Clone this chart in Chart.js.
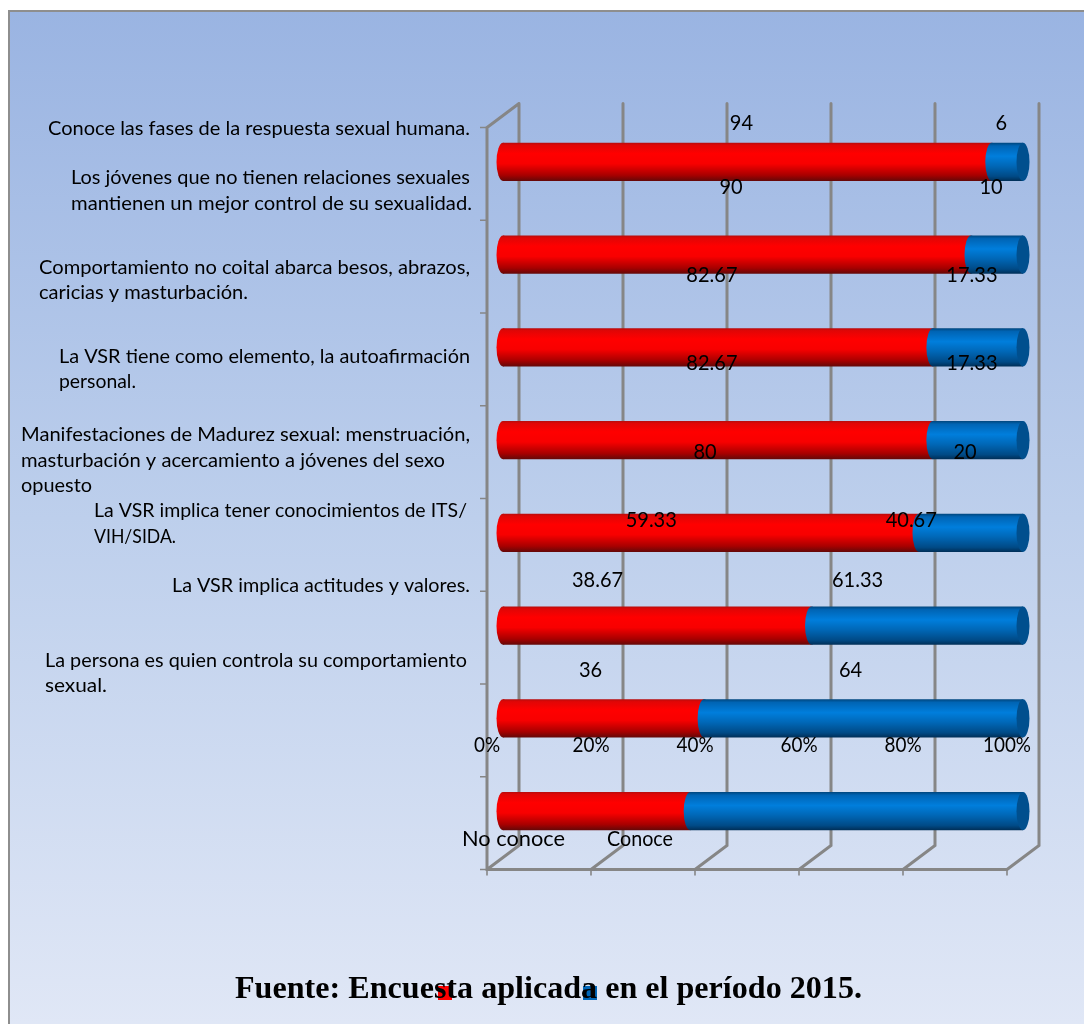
<!DOCTYPE html>
<html lang="es">
<head>
<meta charset="utf-8">
<title>Conocimiento sobre sexualidad</title>
<script src="https://cdn.jsdelivr.net/npm/chart.js@4/dist/chart.umd.min.js"></script>
<style>
  html, body { margin: 0; padding: 0; background: #fff; }
  canvas { display: block; }
</style>
</head>
<body>
<canvas id="chart" width="1084" height="1024"></canvas>
<script>
// Survey results, top bar first
const categories = [
  ["Conoce las fases de la respuesta sexual humana."],
  ["Los jóvenes que no tienen relaciones sexuales", "mantienen un mejor control de su sexualidad."],
  ["Comportamiento no coital abarca besos, abrazos,", "caricias y masturbación."],
  ["La VSR tiene como elemento, la autoafirmación", "personal."],
  ["Manifestaciones de Madurez sexual: menstruación,", "masturbación y acercamiento a jóvenes del sexo", "opuesto"],
  ["La VSR implica tener conocimientos de ITS/", "VIH/SIDA."],
  ["La VSR implica actitudes y valores."],
  ["La persona es quien controla su comportamiento", "sexual."]
];
const noConoce = [94, 90, 82.67, 82.67, 80, 59.33, 38.67, 36];
const conoce = [6, 10, 17.33, 17.33, 20, 40.67, 61.33, 64];
const percentTicks = [0, 20, 40, 60, 80, 100];
const seriesNames = ["No conoce", "Conoce"];
const sourceNote = "Fuente: Encuesta aplicada en el período 2015.";

// Layout of the free-floating text, kept apart from the values
const labelLeft = [48, 71, 39, 59, 21, 94, 172, 45];
const labelRise = [33, 77, 80, 84, 98, 115, 133, 151];
const labelWidths = [[422], [399, 401], [431, 209], [411, 77], [449, 424, 71], [373, 82], [298], [422, 62]];
const valueRise = [40, 69, 73, 78, 82, 107, 139, 142];
const DEPTH_X = 16, DEPTH_Y = 12, CAP_RX = 6.5;
const LINE_GAP = 25.5;
const TEXT_FONT = "Lato, 'Noto Sans', sans-serif";

const RED_STOPS = [[0, "#b80c0c"], [0.06, "#e00606"], [0.28, "#ff0000"], [0.55, "#f80000"], [0.85, "#a80000"], [1, "#640808"]];
const BLUE_STOPS = [[0, "#00477f"], [0.08, "#0064b4"], [0.35, "#007edc"], [0.6, "#0068b8"], [0.88, "#004a86"], [1, "#002f58"]];

function cylinderFill(chart, index, stops) {
  const y = chart.scales.y;
  const fallback = stops[2][1];
  if (!y || index === undefined) return fallback;
  const cy = y.getPixelForValue(index);
  const pitch = y.getPixelForValue(1) - y.getPixelForValue(0);
  if (!Number.isFinite(cy) || !Number.isFinite(pitch)) return fallback;
  const g = chart.ctx.createLinearGradient(0, cy - pitch * 0.205, 0, cy + pitch * 0.205);
  stops.forEach(s => g.addColorStop(s[0], s[1]));
  return g;
}

// Draws text stretched or condensed to an exact width
function fitText(ctx, text, x, y, width, font, align) {
  ctx.save();
  ctx.font = font;
  ctx.fillStyle = "#000";
  ctx.textBaseline = "middle";
  const natural = ctx.measureText(text).width;
  const k = width / natural;
  const left = align === "center" ? x - width / 2 : x;
  ctx.translate(left, y);
  ctx.scale(k, 1);
  ctx.textAlign = "left";
  ctx.fillText(text, 0, 0);
  ctx.restore();
}

const panelBackground = {
  id: "panelBackground",
  beforeDraw(chart) {
    const { ctx, width, height } = chart;
    const g = ctx.createLinearGradient(0, 11, 0, height);
    g.addColorStop(0, "#9ab4e2");
    g.addColorStop(0.5, "#bdcfec");
    g.addColorStop(1, "#e0e7f6");
    ctx.fillStyle = "#fff";
    ctx.fillRect(0, 0, width, height);
    ctx.fillStyle = g;
    ctx.fillRect(8, 11, width - 8, height - 11);
    ctx.strokeStyle = "#8e8e8e";
    ctx.lineWidth = 2;
    ctx.beginPath();
    ctx.moveTo(9, height);
    ctx.lineTo(9, 11);
    ctx.lineTo(width, 11);
    ctx.stroke();
  }
};

// Back wall, side wall and floor of the pseudo 3D box
const boxWalls = {
  id: "boxWalls",
  beforeDatasetsDraw(chart) {
    const { ctx, chartArea: a, scales: { x, y } } = chart;
    const frontTop = a.top + DEPTH_Y, frontBottom = a.bottom + DEPTH_Y;
    const backTop = a.top - DEPTH_Y, backBottom = a.bottom - DEPTH_Y;
    ctx.save();
    ctx.strokeStyle = "#868686";
    ctx.lineCap = "round";
    ctx.lineWidth = 3;
    ctx.beginPath();
    percentTicks.forEach(v => {
      const px = x.getPixelForValue(v);
      ctx.moveTo(px + DEPTH_X, backTop);
      ctx.lineTo(px + DEPTH_X, backBottom);
      ctx.lineTo(px - DEPTH_X, frontBottom);
    });
    const fx0 = x.getPixelForValue(0) - DEPTH_X;
    const fx1 = x.getPixelForValue(100) - DEPTH_X;
    ctx.moveTo(fx1, frontBottom);
    ctx.lineTo(fx0, frontBottom);
    ctx.lineTo(fx0, frontTop);
    ctx.lineTo(fx0 + 2 * DEPTH_X, backTop);
    ctx.stroke();
    ctx.lineWidth = 1.6;
    ctx.lineCap = "butt";
    ctx.beginPath();
    percentTicks.forEach(v => {
      const px = x.getPixelForValue(v) - DEPTH_X;
      ctx.moveTo(px, frontBottom);
      ctx.lineTo(px, frontBottom + 6);
    });
    const pitch = y.getPixelForValue(1) - y.getPixelForValue(0);
    for (let i = 0; i <= categories.length; i++) {
      const py = y.getPixelForValue(0) - pitch / 2 + i * pitch + DEPTH_Y;
      ctx.moveTo(fx0 - 7, py);
      ctx.lineTo(fx0, py);
    }
    ctx.stroke();
    ctx.restore();
  }
};

// Rounded ends of the cylinders: each segment bulges left over its neighbour,
// and the outer end shows a darker face
const cylinderCaps = {
  id: "cylinderCaps",
  afterDatasetsDraw(chart) {
    const { ctx } = chart;
    [RED_STOPS, BLUE_STOPS].forEach((stops, d) => {
      chart.getDatasetMeta(d).data.forEach((bar, i) => {
        const ry = bar.height / 2;
        ctx.save();
        ctx.fillStyle = cylinderFill(chart, i, stops);
        ctx.beginPath();
        ctx.ellipse(bar.base, bar.y, CAP_RX, ry, 0, 0, Math.PI * 2);
        ctx.fill();
        if (d === 1) {
          ctx.fillStyle = "#004f8e";
          ctx.beginPath();
          ctx.ellipse(bar.x, bar.y, CAP_RX, ry, 0, 0, Math.PI * 2);
          ctx.fill();
        }
        ctx.restore();
      });
    });
  }
};

const chartText = {
  id: "chartText",
  afterDraw(chart) {
    const { ctx, scales: { x, y } } = chart;
    const font = "20px " + TEXT_FONT;
    categories.forEach((lines, i) => {
      const top = y.getPixelForValue(i) - labelRise[i];
      lines.forEach((line, j) => {
        fitText(ctx, line, labelLeft[i], top + j * LINE_GAP, labelWidths[i][j], font, "left");
      });
    });

    const valueFont = "22px " + TEXT_FONT;
    chart.data.datasets.forEach((ds, d) => {
      chart.getDatasetMeta(d).data.forEach((bar, i) => {
        const text = String(ds.data[i]);
        const cx = (bar.x + bar.base) / 2 - 6;
        ctx.font = valueFont;
        fitText(ctx, text, cx, y.getPixelForValue(i) - valueRise[i] + 1, ctx.measureText(text).width * 0.91, valueFont, "center");
      });
    });

    percentTicks.forEach(v => {
      const text = v + "%";
      const tickFont = "21px " + TEXT_FONT;
      ctx.font = tickFont;
      const w = ctx.measureText(text).width * 0.9;
      fitText(ctx, text, x.getPixelForValue(v) - DEPTH_X, 745, w, tickFont, "center");
    });

    // Series names sit apart from their colour keys
    fitText(ctx, seriesNames[0], 462, 839, 103, valueFont, "left");
    fitText(ctx, seriesNames[1], 607, 839, 66, valueFont, "left");
    ctx.fillStyle = "#ff0000";
    ctx.fillRect(438, 986, 14, 14);
    ctx.fillStyle = "#0066b8";
    ctx.fillRect(583, 986, 14, 14);
    fitText(ctx, sourceNote, 235, 990, 627, "bold 32px 'Liberation Serif', serif", "left");
  }
};

new Chart(document.getElementById("chart"), {
  type: "bar",
  data: {
    labels: categories,
    datasets: [
      { label: seriesNames[0], data: noConoce,
        backgroundColor: c => cylinderFill(c.chart, c.dataIndex, RED_STOPS) },
      { label: seriesNames[1], data: conoce,
        backgroundColor: c => cylinderFill(c.chart, c.dataIndex, BLUE_STOPS) }
    ]
  },
  options: {
    indexAxis: "y",
    responsive: false,
    animation: false,
    devicePixelRatio: 1,
    categoryPercentage: 0.41,
    barPercentage: 1,
    layout: { padding: { left: 503, right: 61, top: 115.5, bottom: 166.5 } },
    plugins: { legend: { display: false }, tooltip: { enabled: false } },
    scales: {
      x: { display: false, stacked: true, min: 0, max: 100 },
      y: { display: false, stacked: true }
    }
  },
  plugins: [panelBackground, boxWalls, cylinderCaps, chartText]
});
</script>
</body>
</html>
